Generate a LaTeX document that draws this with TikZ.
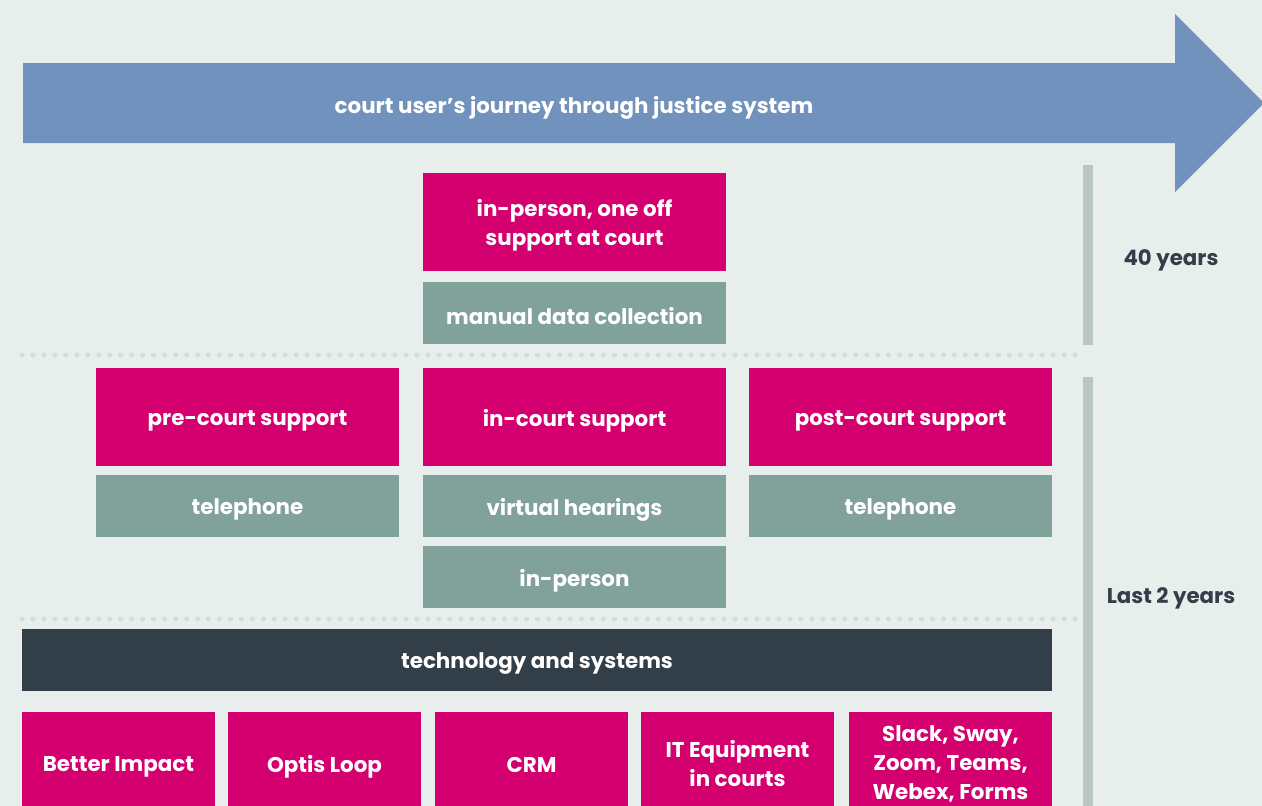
\documentclass[tikz,border=0pt]{standalone}
\usepackage{fontspec}
\setmainfont{Poppins}
\definecolor{bg}{HTML}{E8EEEC}
\definecolor{arrowc}{HTML}{7192BC}
\definecolor{mag}{HTML}{D4006F}
\definecolor{sage}{HTML}{80A29A}
\definecolor{dark}{HTML}{323E48}
\definecolor{barc}{HTML}{BAC6C3}
\definecolor{dotc}{HTML}{CFDFDA}
\tikzset{
  box/.style={inner sep=0pt},
  magbox/.style={box, fill=mag},
  sagebox/.style={box, fill=sage},
  darkbox/.style={box, fill=dark},
  wide/.style={minimum width=303pt, minimum height=98pt},
  flat/.style={minimum width=303pt, minimum height=62pt},
  small/.style={minimum width=193pt, minimum height=102pt},
  txt/.style={inner sep=0pt, text=white, font=\bfseries\fontsize{21.4}{29}\selectfont, align=center, yshift=-3.5pt},
  dotline/.style={draw=dotc, line width=5pt, line cap=round, dash pattern=on 0pt off 10.97pt},
  yearlabel/.style={text=dark, font=\bfseries\fontsize{21.3}{26}\selectfont},
}
\begin{document}
\begin{tikzpicture}[x=1pt,y=-1pt]
\useasboundingbox (0,0) rectangle (1262,806);
\fill[bg] (0,0) rectangle (1262,806);
% main arrow
\fill[arrowc] (23,63) -- (1175,63) -- (1175,14) -- (1264,103) -- (1175,192) -- (1175,143) -- (23,143) -- cycle;
\node[txt] (journey) at (574,104) {court user’s journey through justice system};
% vertical bars
\fill[barc] (1083,165) rectangle (1093,345);
\fill[barc] (1083,377) rectangle (1093,806);
\node[yearlabel] (y40) at (1171,260) {40 years};
\node[yearlabel] (y2) at (1171,598) {Last 2 years};
% dotted lines
\coordinate (d1a) at (22,355);
\coordinate (d1b) at (1077,355);
\coordinate (d2a) at (22,619);
\coordinate (d2b) at (1077,619);
\draw[dotline] (d1a) -- (d1b);
\draw[dotline] (d2a) -- (d2b);
% 40 years boxes
\node[magbox, wide] (oneoff) at (574.5,222) {};
\node[txt] (oneoff-t) at (oneoff) {in-person, one off\\support at court};
\node[sagebox, flat] (manual) at (574.5,313) {};
\node[txt] (manual-t) at (manual) {manual data collection};
% last 2 years
\node[magbox, wide] (pre) at (247.5,417) {};
\node[txt] (pre-t) at (pre) {pre-court support};
\node[magbox, wide] (in) at (574.5,417) {};
\node[txt] (in-t) at (in) {in-court support};
\node[magbox, wide] (post) at (900.5,417) {};
\node[txt] (post-t) at (post) {post-court support};
\node[sagebox, flat] (tel1) at (247.5,506) {};
\node[txt] (tel1-t) at (tel1) {telephone};
\node[sagebox, flat] (virt) at (574.5,506) {};
\node[txt] (virt-t) at (virt) {virtual hearings};
\node[sagebox, flat] (tel2) at (900.5,506) {};
\node[txt] (tel2-t) at (tel2) {telephone};
\node[sagebox, flat] (inp) at (574.5,577) {};
\node[txt] (inp-t) at (inp) {in-person};
% technology
\node[darkbox, minimum width=1030pt, minimum height=62pt] (tech) at (537,660) {};
\node[txt] (tech-t) at (tech) {technology and systems};
\node[magbox, small] (bi) at (118.5,763) {};
\node[txt] (bi-t) at (bi) {Better Impact};
\node[magbox, small] (optis) at (324.5,763) {};
\node[txt] (optis-t) at (optis) {Optis Loop};
\node[magbox, small] (crm) at (531.5,763) {};
\node[txt] (crm-t) at ([yshift=2pt]crm.center) {CRM};
\node[magbox, small] (itq) at (737.5,763) {};
\node[txt] (itq-t) at ([yshift=3pt]itq.center) {IT Equipment\\in courts};
\node[magbox, minimum width=203pt, minimum height=102pt] (slack) at (950.5,763) {};
\node[txt] (slack-t) at ([yshift=2.5pt]slack.center) {Slack, Sway,\\Zoom, Teams,\\Webex, Forms};
\end{tikzpicture}
\end{document}
